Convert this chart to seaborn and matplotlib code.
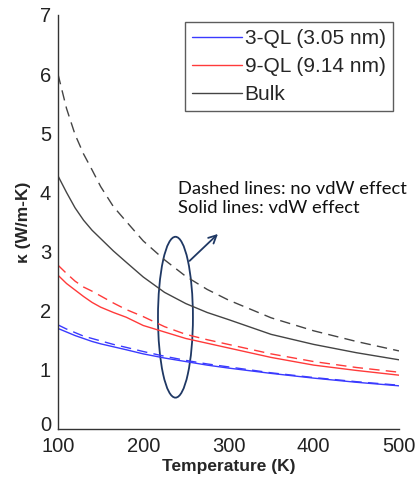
import numpy as np
import pandas as pd
import matplotlib
matplotlib.use('Agg')
import matplotlib.pyplot as plt
import matplotlib.transforms as mtransforms
import seaborn as sns
from matplotlib.lines import Line2D
from matplotlib.patches import Ellipse

# Data
temperature = [100, 110, 120, 130, 140, 150, 165, 180, 200, 225, 250, 275,
               300, 350, 400, 450, 500]

ql3_vdw = [1.70, 1.64, 1.58, 1.53, 1.48, 1.44, 1.39, 1.34, 1.27, 1.20, 1.14,
           1.08, 1.03, 0.94, 0.86, 0.79, 0.73]
ql3_novdw = [1.76, 1.69, 1.63, 1.57, 1.53, 1.49, 1.43, 1.38, 1.31, 1.23, 1.16,
             1.10, 1.05, 0.95, 0.87, 0.80, 0.74]
ql9_vdw = [2.60, 2.46, 2.35, 2.24, 2.14, 2.06, 1.97, 1.89, 1.75, 1.64, 1.53,
           1.45, 1.37, 1.21, 1.08, 0.99, 0.91]
ql9_novdw = [2.77, 2.63, 2.50, 2.40, 2.33, 2.25, 2.13, 2.02, 1.90, 1.73, 1.60,
             1.51, 1.43, 1.27, 1.14, 1.04, 0.96]
bulk_vdw = [4.28, 4.00, 3.74, 3.53, 3.36, 3.22, 3.01, 2.82, 2.57, 2.31, 2.12,
            1.97, 1.85, 1.60, 1.43, 1.29, 1.17]
bulk_novdw = [6.00, 5.42, 4.98, 4.65, 4.38, 4.10, 3.76, 3.51, 3.18, 2.86, 2.58,
              2.36, 2.18, 1.88, 1.66, 1.48, 1.32]

labels = ['3-QL (3.05 nm)', '9-QL (9.14 nm)', 'Bulk']
colors = ['#3a3aff', '#ff3a3a', '#444444']

rows = []
for lab, vdw, novdw in zip(labels, [ql3_vdw, ql9_vdw, bulk_vdw],
                           [ql3_novdw, ql9_novdw, bulk_novdw]):
    for t, a, b in zip(temperature, vdw, novdw):
        rows.append({'T': t, 'kappa': a, 'size': lab, 'effect': 'vdW'})
        rows.append({'T': t, 'kappa': b, 'size': lab, 'effect': 'no vdW'})
df = pd.DataFrame(rows)

sns.set_style('white')
plt.rcParams['font.family'] = ['Liberation Sans', 'DejaVu Sans']

fig = plt.figure(figsize=(4.19, 4.79), dpi=100)
ax = fig.add_axes([0.1384, 0.1044, 0.8138, 0.8643])

sns.lineplot(data=df, x='T', y='kappa', hue='size', style='effect',
             palette=dict(zip(labels, colors)),
             dashes={'vdW': '', 'no vdW': (7.5, 4.5)},
             linewidth=1.0, legend=False, ax=ax)

ax.set_xlim(100, 500)
ax.set_ylim(0, 7)
ax.set_xticks([100, 200, 300, 400, 500])
ax.set_yticks(range(0, 8))
ax.tick_params(direction='in', length=4, width=1, labelsize=14.5,
               colors='#222222', pad=5)
ax.tick_params(axis='x', pad=6)
for side in ['top', 'right']:
    ax.spines[side].set_visible(False)
for side in ['left', 'bottom']:
    ax.spines[side].set_color('#333333')
    ax.spines[side].set_linewidth(1.0)

# lift the "0" label a little so it sits just above "100"
zero_lbl = ax.get_yticklabels()[0]
zero_lbl.set_transform(zero_lbl.get_transform() +
                       mtransforms.ScaledTranslation(0, 5 / 100, fig.dpi_scale_trans))

ax.set_xlabel('Temperature (K)', fontsize=12.5, fontweight='bold', labelpad=2)
ax.set_ylabel('\u03ba (W/m-K)', fontsize=12.5, fontweight='bold', labelpad=6)

handles = [Line2D([0], [0], color=c, lw=1.0) for c in colors]
leg = ax.legend(handles, labels, loc='upper right', bbox_to_anchor=(0.982, 0.983),
                fontsize=15, frameon=True, fancybox=False, handlelength=2.4,
                handletextpad=0.1, borderpad=0.35, labelspacing=0.42,
                borderaxespad=0)
leg.get_frame().set_edgecolor('#333333')
leg.get_frame().set_linewidth(1.0)

navy = '#1f3864'
ax.add_patch(Ellipse((237.8, 1.89), width=41, height=2.72, fill=False,
                     edgecolor=navy, lw=1.3))
ax.annotate('', xy=(290, 3.33), xytext=(252, 2.81),
            arrowprops=dict(arrowstyle='->', color=navy, lw=1.3,
                            mutation_scale=14))

ax.text(0.352, 0.600, 'Dashed lines: no vdW effect\nSolid lines: vdW effect',
        transform=ax.transAxes, ha='left', va='top', fontsize=13.2,
        family=['Lato', 'DejaVu Sans'], linespacing=1.3, color='#111111')

fig.savefig('out.png', dpi=100)
